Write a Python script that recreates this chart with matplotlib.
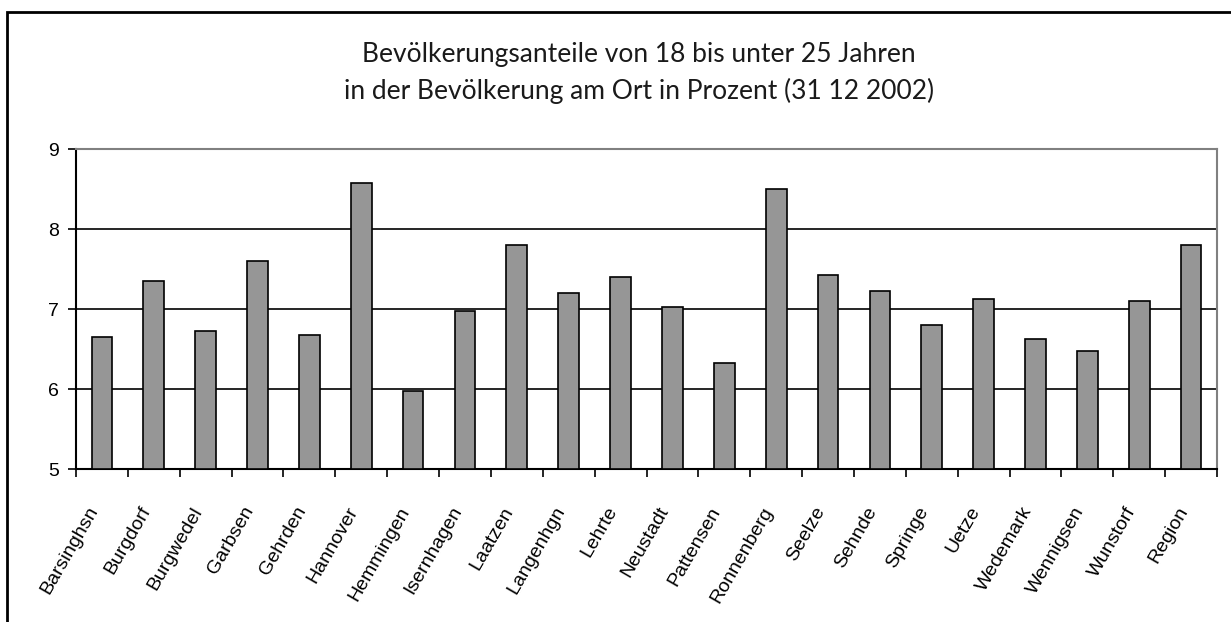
import matplotlib.pyplot as plt
import numpy as np
from matplotlib.patches import Rectangle

orte = ['Barsinghsn', 'Burgdorf', 'Burgwedel', 'Garbsen', 'Gehrden', 'Hannover',
        'Hemmingen', 'Isernhagen', 'Laatzen', 'Langenhgn', 'Lehrte', 'Neustadt',
        'Pattensen', 'Ronnenberg', 'Seelze', 'Sehnde', 'Springe', 'Uetze',
        'Wedemark', 'Wennigsen', 'Wunstorf', 'Region']
anteil = [6.65, 7.35, 6.73, 7.60, 6.68, 8.58, 5.98, 6.98, 7.80, 7.20, 7.40,
          7.03, 6.33, 8.50, 7.43, 7.23, 6.80, 7.13, 6.63, 6.48, 7.10, 7.80]
yticks = [5, 6, 7, 8, 9]

titel1 = 'Bevölkerungsanteile von 18 bis unter 25 Jahren'
titel2 = 'in der Bevölkerung am Ort in Prozent (31 12 2002)'

W, H = 1231, 622
fig = plt.figure(figsize=(W / 100, H / 100), dpi=100)
ax = fig.add_axes([76 / W, 1 - 469 / H, (1217 - 76) / W, (469 - 149) / H])

x = np.arange(len(orte))
ax.bar(x, [v - 5 for v in anteil], bottom=5, width=0.4, color='#969696',
       edgecolor='black', linewidth=1.2, zorder=3)

ax.set_xlim(-0.5, len(orte) - 0.5)
ax.set_ylim(5, 9)
ax.set_yticks(yticks)
ax.set_yticklabels([str(t) for t in yticks], fontsize=14, family='Liberation Sans')
ax.yaxis.grid(True, color='black', linewidth=1.2, zorder=0)

ax.set_xticks(x)
ax.set_xticklabels(orte, rotation=60, ha='right', va='top', fontsize=14,
                   family='Liberation Sans')
ax.set_xticks(np.arange(len(orte) + 1) - 0.5, minor=True)
ax.tick_params(axis='x', which='major', length=0, pad=25)
ax.tick_params(axis='x', which='minor', length=6, width=1.2, direction='out')
ax.tick_params(axis='y', length=6, width=1.2, direction='out', pad=6)

for s in ['left', 'bottom']:
    ax.spines[s].set_color('black')
    ax.spines[s].set_linewidth(1.5)
for s in ['top', 'right']:
    ax.spines[s].set_color('#808080')
    ax.spines[s].set_linewidth(1.5)

# outer chart frame (right and bottom edges lie outside the picture)
fig.patches.append(Rectangle((7 / W, -0.1), 1.2, 1 - 12 / H + 0.1, fill=False,
                             edgecolor='black', linewidth=2,
                             transform=fig.transFigure, figure=fig))

fig.text(639 / W, 1 - 62 / H, titel1, ha='center', va='baseline', fontsize=19,
         family=['Lato', 'DejaVu Sans'], color='#1a1a1a')
fig.text(639 / W, 1 - 99 / H, titel2, ha='center', va='baseline', fontsize=19,
         family=['Lato', 'DejaVu Sans'], color='#1a1a1a')

fig.savefig('out.png', dpi=100)
